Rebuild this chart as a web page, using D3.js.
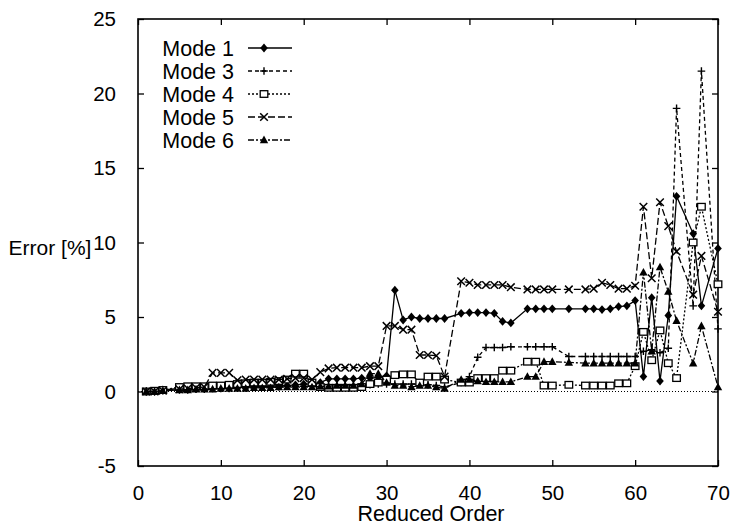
<!DOCTYPE html>
<html>
<head>
<meta charset="utf-8">
<script src="https://cdn.jsdelivr.net/npm/d3@7"></script>
<style>
  body { margin: 0; background: #fff; }
  svg { display: block; font-family: "Liberation Sans", Arial, Helvetica, sans-serif; }
</style>
</head>
<body>
<svg id="chart" width="734" height="528"></svg>
<script>
const orders = [1,2,3,5,6,7,8,9,10,11,12,13,14,15,16,17,18,19,20,21,22,23,24,25,26,27,28,29,30,
  31,32,33,34,35,36,37,39,40,41,42,43,44,45,47,48,49,50,52,54,55,56,57,58,59,60,
  61,62,63,64,65,67,68,70];

const mode1 = [0.0,0.0,0.1,0.2,0.2,0.2,0.25,0.25,0.25,0.3,0.3,0.3,0.3,0.35,0.35,0.4,0.4,0.45,0.5,0.5,0.6,0.85,0.85,0.85,0.85,0.9,0.9,0.95,1.05,
  6.8,4.8,5.0,4.9,4.9,4.9,4.9,5.25,5.3,5.3,5.3,5.25,4.7,4.6,5.55,5.55,5.55,5.55,5.55,5.55,5.55,5.5,5.55,5.7,5.75,6.1,
  1.0,6.3,0.7,5.1,13.1,10.6,5.75,9.6];

const mode3 = [0.0,0.0,0.05,0.1,0.1,0.15,0.15,0.2,0.2,0.2,0.25,0.25,0.3,0.3,0.3,0.3,0.35,0.35,0.35,0.35,0.4,0.4,0.4,0.4,0.4,0.45,0.45,0.5,0.5,
  0.5,0.5,0.5,0.5,0.45,0.4,0.3,0.6,1.0,2.3,2.95,2.95,2.95,3.0,3.0,3.0,3.0,3.0,2.35,2.35,2.35,2.35,2.35,2.35,2.35,2.35,
  2.7,2.8,2.6,2.9,19.0,5.75,21.5,4.2];

const mode4 = [0.0,0.05,0.1,0.3,0.35,0.35,0.35,0.4,0.4,0.45,0.5,0.55,0.6,0.6,0.65,0.7,0.8,1.2,1.2,0.6,0.3,0.25,0.25,0.25,0.25,0.3,0.5,0.6,0.8,
  1.1,1.15,1.15,0.6,1.0,1.0,0.8,0.6,0.6,0.9,0.9,0.9,1.4,1.4,2.0,2.0,0.4,0.4,0.45,0.4,0.4,0.4,0.4,0.55,0.55,1.7,
  4.0,2.1,4.1,1.9,0.9,10.0,12.4,7.2];

const mode5 = [0.0,0.0,0.05,0.15,0.2,0.25,0.3,1.25,1.25,1.25,0.75,0.8,0.8,0.8,0.8,0.8,0.85,0.9,0.9,0.8,1.3,1.55,1.6,1.6,1.6,1.6,1.7,1.7,4.4,
  4.4,4.15,4.15,2.45,2.45,2.4,1.0,7.4,7.3,7.15,7.15,7.15,7.15,7.0,6.85,6.85,6.85,6.85,6.85,6.85,6.9,7.3,7.15,6.9,6.9,7.1,
  12.4,7.6,12.7,11.1,9.4,6.5,9.1,5.35];

const mode6 = [0.0,0.0,0.05,0.1,0.1,0.15,0.15,0.15,0.2,0.2,0.2,0.2,0.25,0.25,0.25,0.3,0.3,0.3,0.3,0.3,0.35,0.35,0.4,0.4,0.4,0.5,1.2,1.2,0.6,
  0.4,0.4,0.3,0.4,0.4,0.3,0.2,0.8,0.8,0.7,0.65,0.65,0.65,0.65,1.0,1.0,2.0,2.0,1.95,1.9,1.9,1.9,1.9,1.9,1.9,1.9,
  8.0,2.7,8.35,6.7,4.75,1.9,4.4,0.3];

const seriesNames = ["Mode 1", "Mode 3", "Mode 4", "Mode 5", "Mode 6"];
const xTicks = [0, 10, 20, 30, 40, 50, 60, 70];
const yTicks = [-5, 0, 5, 10, 15, 20, 25];

const series = [
  { name: seriesNames[0], values: mode1, dash: null, marker: "diamond" },
  { name: seriesNames[1], values: mode3, dash: "4,3", marker: "plus" },
  { name: seriesNames[2], values: mode4, dash: "2,2", marker: "square" },
  { name: seriesNames[3], values: mode5, dash: "7,3", marker: "cross" },
  { name: seriesNames[4], values: mode6, dash: "6,2,2,2", marker: "triangle" }
];

const svg = d3.select("#chart");
const plotLeft = 138, plotRight = 718, plotTop = 19, plotBottom = 466;

const x = d3.scaleLinear().domain([0, 70]).range([plotLeft, plotRight]);
const y = d3.scaleLinear().domain([-5, 25]).range([plotBottom, plotTop]);

// plain hyphen minus, like the original plot
const tickText = d => String(d);

// frame with inward ticks on every side
svg.append("rect")
  .attr("x", plotLeft).attr("y", plotTop)
  .attr("width", plotRight - plotLeft).attr("height", plotBottom - plotTop)
  .attr("fill", "none").attr("stroke", "#000").attr("stroke-width", 1.6);

const tickLen = 6;
const axisStyle = g => {
  g.select(".domain").remove();
  g.selectAll("line").attr("stroke", "#000").attr("stroke-width", 1.3);
  g.selectAll("text").attr("fill", "#000").attr("font-size", 20.5);
};

svg.append("g")
  .attr("transform", `translate(0,${plotBottom})`)
  .call(d3.axisBottom(x).tickValues(xTicks).tickSize(-tickLen).tickPadding(19).tickFormat(tickText))
  .call(axisStyle);

svg.append("g")
  .attr("transform", `translate(0,${plotTop})`)
  .call(d3.axisTop(x).tickValues(xTicks).tickSize(-tickLen).tickFormat(""))
  .call(axisStyle);

svg.append("g")
  .attr("transform", `translate(${plotLeft},0)`)
  .call(d3.axisLeft(y).tickValues(yTicks).tickSize(-tickLen).tickPadding(22).tickFormat(tickText))
  .call(axisStyle);

svg.append("g")
  .attr("transform", `translate(${plotRight},0)`)
  .call(d3.axisRight(y).tickValues(yTicks).tickSize(-tickLen).tickFormat(""))
  .call(axisStyle);

// dotted zero axis
svg.append("line")
  .attr("x1", plotLeft).attr("x2", plotRight)
  .attr("y1", y(0)).attr("y2", y(0))
  .attr("stroke", "#000").attr("stroke-width", 1)
  .attr("stroke-dasharray", "1,2");

svg.append("text")
  .attr("x", 50).attr("y", 255)
  .attr("text-anchor", "middle")
  .attr("font-size", 21)
  .text("Error [%]");

svg.append("text")
  .attr("x", 431).attr("y", 521)
  .attr("text-anchor", "middle")
  .attr("font-size", 21.5)
  .text("Reduced Order");

function drawMarker(g, type, cx, cy) {
  const s = 3.8;
  if (type === "diamond") {
    g.append("path")
      .attr("d", `M${cx},${cy - s - 0.6}L${cx + s},${cy}L${cx},${cy + s + 0.6}L${cx - s},${cy}Z`)
      .attr("fill", "#000");
  } else if (type === "plus") {
    g.append("path")
      .attr("d", `M${cx - s},${cy}H${cx + s}M${cx},${cy - s}V${cy + s}`)
      .attr("stroke", "#000").attr("stroke-width", 1.4).attr("fill", "none");
  } else if (type === "square") {
    g.append("rect")
      .attr("x", cx - s).attr("y", cy - s + 0.5)
      .attr("width", 2 * s).attr("height", 2 * s - 1)
      .attr("fill", "#fff").attr("stroke", "#000").attr("stroke-width", 1.3);
  } else if (type === "cross") {
    g.append("path")
      .attr("d", `M${cx - s},${cy - s}L${cx + s},${cy + s}M${cx - s},${cy + s}L${cx + s},${cy - s}`)
      .attr("stroke", "#000").attr("stroke-width", 1.5).attr("fill", "none");
  } else if (type === "triangle") {
    g.append("path")
      .attr("d", `M${cx},${cy - s - 0.6}L${cx + s + 0.4},${cy + s - 0.6}L${cx - s - 0.4},${cy + s - 0.6}Z`)
      .attr("fill", "#000");
  }
}

const line = d3.line()
  .x(d => x(d[0]))
  .y(d => y(d[1]));

const plot = svg.append("g");

series.forEach(s => {
  const pts = orders.map((o, i) => [o, s.values[i]]);
  plot.append("path")
    .datum(pts)
    .attr("d", line)
    .attr("fill", "none")
    .attr("stroke", "#000")
    .attr("stroke-width", 1.3)
    .attr("stroke-dasharray", s.dash);
  const mg = plot.append("g");
  pts.forEach(p => drawMarker(mg, s.marker, x(p[0]), y(p[1])));
});

// legend
const legend = svg.append("g");
series.forEach((s, i) => {
  const cy = 48 + i * 23;
  legend.append("text")
    .attr("x", 234).attr("y", cy + 7.5)
    .attr("text-anchor", "end")
    .attr("font-size", 21.5)
    .text(s.name);
  legend.append("line")
    .attr("x1", 248).attr("x2", 292)
    .attr("y1", cy).attr("y2", cy)
    .attr("stroke", "#000").attr("stroke-width", 1.3)
    .attr("stroke-dasharray", s.dash);
  drawMarker(legend, s.marker, 264, cy);
});
</script>
</body>
</html>
